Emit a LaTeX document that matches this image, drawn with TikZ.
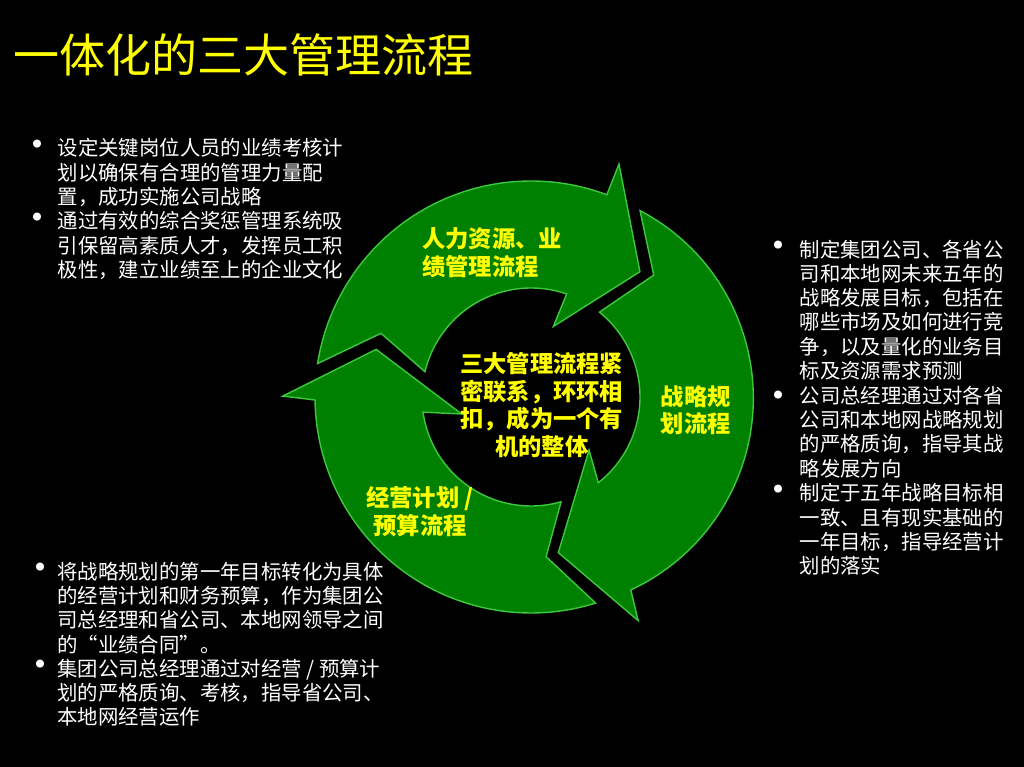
\documentclass[tikz,border=0pt]{standalone}
\usepackage{fontspec}
\newfontfamily\cjk{Noto Sans CJK SC}
\usetikzlibrary{calc}
\definecolor{ringgreen}{RGB}{0,128,0}
\definecolor{ringedge}{RGB}{60,200,60}
\definecolor{ttlyellow}{RGB}{255,255,0}
\begin{document}
\begin{tikzpicture}[x=1pt,y=1pt,
  ring/.style={fill=ringgreen, draw=ringedge, line width=1.4pt, line join=miter},
  bodytxt/.style={text=white, inner sep=0pt, align=left, anchor=west,
    font={\cjk\fontsize{20.4}{24.3}\selectfont}},
  bul/.style={text=white, inner sep=0pt, anchor=center,
    font={\cjk\fontsize{38}{40}\selectfont}},
  lbl/.style={text=ttlyellow, inner sep=0pt,
    font={\cjk\bfseries\fontsize{23.3}{27.5}\selectfont}},
  ttl/.style={text=ttlyellow, inner sep=0pt, anchor=west,
    font={\cjk\fontsize{46}{50}\selectfont}}
]
\fill[black] (0,0) rectangle (1024,767);
\useasboundingbox (0,0) rectangle (1024,767);

\coordinate (C) at (531,370);
\coordinate (C2) at (541.7,369);

% arrow 1: HR / performance (top)
\draw[ring] ($(C)+(171.1:216)$) arc[start angle=171.1,end angle=69.45,radius=216]
  -- ($(C)+(69.3:249)$) -- ($(C)+(49:166)$) -- ($(C)+(72.4:74)$)
  -- ($(C)+(70.9:109)$) arc[start angle=70.9,end angle=166.6,radius=109]
  -- ($(C)+(157:163)$) -- cycle;

% arrow 2: strategy (right)
\draw[ring] ($(C2)+(62.3:211.6)$) arc[start angle=62.3,end angle=-65.1,radius=211.6]
  -- ($(C)+(-64.4:248)$) -- ($(C)+(-80.05:158)$) -- ($(C)+(-42.4:78.6)$)
  -- ($(C)+(-51.9:109)$) arc[start angle=-51.9,end angle=51.1,radius=109]
  -- ($(C)+(44.8:173)$) -- cycle;

% arrow 3: operations / budget (bottom left)
\draw[ring] ($(C)+(-72.6:216)$) arc[start angle=-72.6,end angle=-179.2,radius=216]
  -- ($(C)+(-180.2:248.3)$) -- ($(C)+(-197.1:162)$) -- ($(C)+(-166.2:71.4)$)
  -- ($(C)+(-172:109)$) arc[start angle=-172,end angle=-74,radius=109]
  -- ($(C)+(-84.6:160.4)$) -- cycle;

% title
\node[ttl] (title) at (13,712) {一体化的三大管理流程};

% ring labels
\node[lbl, anchor=west, align=left] (hr) at (422,514.5) {人力资源、业\\绩管理流程};
\node[lbl, anchor=west, align=left] (strat) at (660.5,357) {战略规\\划流程};
\node[lbl, anchor=center, align=center] (ops) at (420,255.3) {经营计划 /\\预算流程};
\node[lbl, anchor=center, align=center] (core) at (541.7,362) {三大管理流程紧\\密联系，环环相\\扣，成为一个有\\机的整体};

% top-left text
\node[bul] (b1) at (37.5,618) {•};
\node[bodytxt] (t1) at (57.5,594.4) {设定关键岗位人员的业绩考核计\\划以确保有合理的管理力量配\\置，成功实施公司战略};
\node[bul] (b2) at (37.5,545) {•};
\node[bodytxt] (t2) at (57.5,521.5) {通过有效的综合奖惩管理系统吸\\引保留高素质人才，发挥员工积\\极性，建立业绩至上的企业文化};

% right text
\node[bul] (b3) at (778.5,517) {•};
\node[bodytxt] (t3) at (799.5,457) {制定集团公司、各省公\\司和本地网未来五年的\\战略发展目标，包括在\\哪些市场及如何进行竞\\争，以及量化的业务目\\标及资源需求预测};
\node[bul] (b4) at (778.5,366.6) {•};
\node[bodytxt] (t4) at (799.5,335) {公司总经理通过对各省\\公司和本地网战略规划\\的严格质询，指导其战\\略发展方向};
\node[bul] (b5) at (778.5,273) {•};
\node[bodytxt] (t5) at (799.5,237.4) {制定于五年战略目标相\\一致、且有现实基础的\\一年目标，指导经营计\\划的落实};

% bottom-left text
\node[bul] (b6) at (40,194.3) {•};
\node[bodytxt] (t6) at (57,159) {将战略规划的第一年目标转化为具体\\的经营计划和财务预算，作为集团公\\司总经理和省公司、本地网领导之间\\的“业绩合同”。};
\node[bul] (b7) at (40,97.5) {•};
\node[bodytxt] (t7) at (57,74.3) {集团公司总经理通过对经营 / 预算计\\划的严格质询、考核，指导省公司、\\本地网经营运作};
\end{tikzpicture}
\end{document}
